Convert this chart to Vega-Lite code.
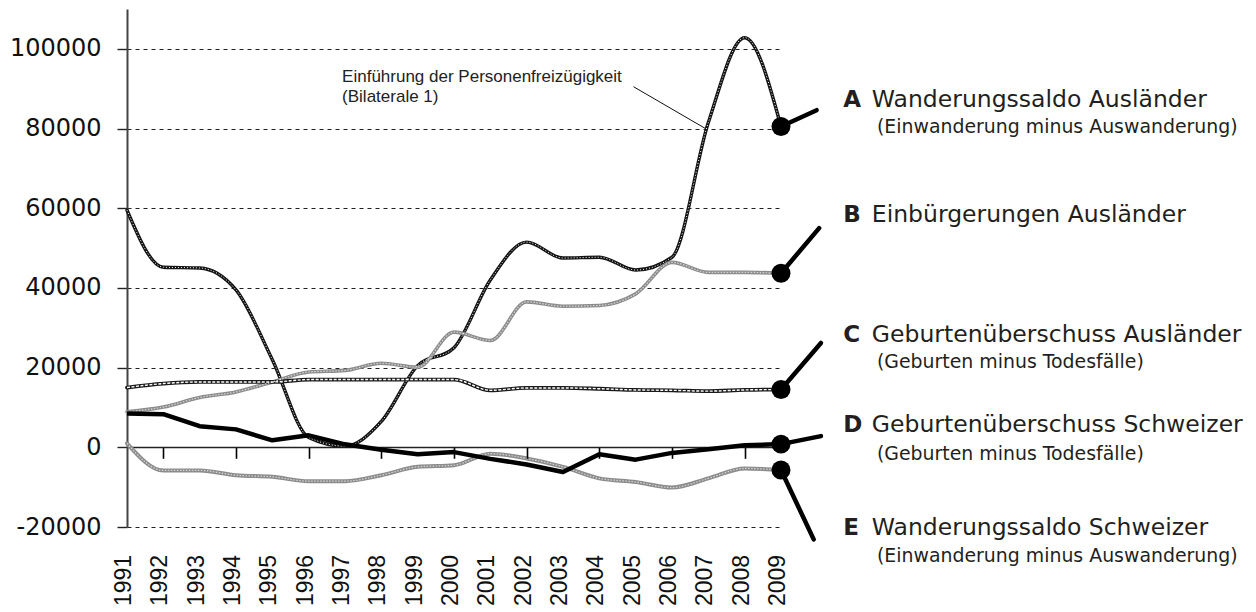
{
  "$schema": "https://vega.github.io/schema/vega-lite/v6.json",
  "width": 654,
  "height": 518,
  "autosize": {"type": "none"},
  "padding": {"left": 127, "top": 9, "right": 475, "bottom": 85},
  "background": "white",
  "config": {"view": {"stroke": null}, "font": "DejaVu Sans"},
  "datasets": {
    "series": [
      {"year": 1991, "series": "A", "value": 59500},
      {"year": 1992, "series": "A", "value": 45200},
      {"year": 1993, "series": "A", "value": 45000},
      {"year": 1994, "series": "A", "value": 39500},
      {"year": 1995, "series": "A", "value": 22000},
      {"year": 1996, "series": "A", "value": 2500},
      {"year": 1997, "series": "A", "value": 300},
      {"year": 1998, "series": "A", "value": 6500},
      {"year": 1999, "series": "A", "value": 20500},
      {"year": 2000, "series": "A", "value": 25000},
      {"year": 2001, "series": "A", "value": 42000},
      {"year": 2002, "series": "A", "value": 51500},
      {"year": 2003, "series": "A", "value": 47500},
      {"year": 2004, "series": "A", "value": 47700},
      {"year": 2005, "series": "A", "value": 44500},
      {"year": 2006, "series": "A", "value": 47700},
      {"year": 2007, "series": "A", "value": 81500},
      {"year": 2008, "series": "A", "value": 102800},
      {"year": 2009, "series": "A", "value": 80500},
      {"year": 1991, "series": "B", "value": 8900},
      {"year": 1992, "series": "B", "value": 10100},
      {"year": 1993, "series": "B", "value": 12500},
      {"year": 1994, "series": "B", "value": 13900},
      {"year": 1995, "series": "B", "value": 16400},
      {"year": 1996, "series": "B", "value": 18900},
      {"year": 1997, "series": "B", "value": 19300},
      {"year": 1998, "series": "B", "value": 21100},
      {"year": 1999, "series": "B", "value": 20100},
      {"year": 2000, "series": "B", "value": 28900},
      {"year": 2001, "series": "B", "value": 26800},
      {"year": 2002, "series": "B", "value": 36500},
      {"year": 2003, "series": "B", "value": 35400},
      {"year": 2004, "series": "B", "value": 35600},
      {"year": 2005, "series": "B", "value": 38500},
      {"year": 2006, "series": "B", "value": 46400},
      {"year": 2007, "series": "B", "value": 43900},
      {"year": 2008, "series": "B", "value": 43900},
      {"year": 2009, "series": "B", "value": 43700},
      {"year": 1991, "series": "C", "value": 15000},
      {"year": 1992, "series": "C", "value": 16000},
      {"year": 1993, "series": "C", "value": 16400},
      {"year": 1994, "series": "C", "value": 16400},
      {"year": 1995, "series": "C", "value": 16400},
      {"year": 1996, "series": "C", "value": 17000},
      {"year": 1997, "series": "C", "value": 17000},
      {"year": 1998, "series": "C", "value": 17000},
      {"year": 1999, "series": "C", "value": 17000},
      {"year": 2000, "series": "C", "value": 17000},
      {"year": 2001, "series": "C", "value": 14300},
      {"year": 2002, "series": "C", "value": 14900},
      {"year": 2003, "series": "C", "value": 14900},
      {"year": 2004, "series": "C", "value": 14700},
      {"year": 2005, "series": "C", "value": 14400},
      {"year": 2006, "series": "C", "value": 14300},
      {"year": 2007, "series": "C", "value": 14100},
      {"year": 2008, "series": "C", "value": 14400},
      {"year": 2009, "series": "C", "value": 14500},
      {"year": 1991, "series": "D", "value": 8500},
      {"year": 1992, "series": "D", "value": 8300},
      {"year": 1993, "series": "D", "value": 5300},
      {"year": 1994, "series": "D", "value": 4500},
      {"year": 1995, "series": "D", "value": 1750},
      {"year": 1996, "series": "D", "value": 3000},
      {"year": 1997, "series": "D", "value": 750},
      {"year": 1998, "series": "D", "value": -600},
      {"year": 1999, "series": "D", "value": -1750},
      {"year": 2000, "series": "D", "value": -1200},
      {"year": 2001, "series": "D", "value": -2900},
      {"year": 2002, "series": "D", "value": -4300},
      {"year": 2003, "series": "D", "value": -6200},
      {"year": 2004, "series": "D", "value": -1750},
      {"year": 2005, "series": "D", "value": -3100},
      {"year": 2006, "series": "D", "value": -1400},
      {"year": 2007, "series": "D", "value": -500},
      {"year": 2008, "series": "D", "value": 500},
      {"year": 2009, "series": "D", "value": 800},
      {"year": 1991, "series": "E", "value": 1000},
      {"year": 1992, "series": "E", "value": -5800},
      {"year": 1993, "series": "E", "value": -5800},
      {"year": 1994, "series": "E", "value": -7000},
      {"year": 1995, "series": "E", "value": -7400},
      {"year": 1996, "series": "E", "value": -8500},
      {"year": 1997, "series": "E", "value": -8500},
      {"year": 1998, "series": "E", "value": -7000},
      {"year": 1999, "series": "E", "value": -4900},
      {"year": 2000, "series": "E", "value": -4500},
      {"year": 2001, "series": "E", "value": -1600},
      {"year": 2002, "series": "E", "value": -2800},
      {"year": 2003, "series": "E", "value": -4900},
      {"year": 2004, "series": "E", "value": -7800},
      {"year": 2005, "series": "E", "value": -8700},
      {"year": 2006, "series": "E", "value": -10100},
      {"year": 2007, "series": "E", "value": -7800},
      {"year": 2008, "series": "E", "value": -5300},
      {"year": 2009, "series": "E", "value": -5700}
    ],
    "pointers": [
      {"k": "A", "x": 2009, "y": 80500, "x2": 2009.98, "y2": 84600},
      {"k": "B", "x": 2009, "y": 43700, "x2": 2010.05, "y2": 55000},
      {"k": "C", "x": 2009, "y": 14500, "x2": 2010.1, "y2": 26200},
      {"k": "D", "x": 2009, "y": 800, "x2": 2010.1, "y2": 2800},
      {"k": "E", "x": 2009, "y": -5700, "x2": 2009.9, "y2": -23100}
    ],
    "labels": [
      {"k": "A", "t": "Wanderungssaldo Ausländer", "s": "(Einwanderung minus Auswanderung)", "ty": 85500, "sy": 78900},
      {"k": "B", "t": "Einbürgerungen Ausländer", "s": "", "ty": 56600, "sy": 50000},
      {"k": "C", "t": "Geburtenüberschuss Ausländer", "s": "(Geburten minus Todesfälle)", "ty": 26500, "sy": 19800},
      {"k": "D", "t": "Geburtenüberschuss Schweizer", "s": "(Geburten minus Todesfälle)", "ty": 3900, "sy": -3200},
      {"k": "E", "t": "Wanderungssaldo Schweizer", "s": "(Einwanderung minus Auswanderung)", "ty": -22000, "sy": -28700}
    ],
    "note": [
      {"t": "Einführung der Personenfreizügigkeit", "yr": 1996.92, "v": 91750},
      {"t": "(Bilaterale 1)", "yr": 1996.92, "v": 86730}
    ],
    "noteLine": [
      {"x": 2004.94, "y": 90500, "x2": 2006.91, "y2": 80060}
    ]
  },
  "layer": [
    {
      "data": {"name": "series"},
      "transform": [{"filter": "datum.series !== 'D'"}],
      "mark": {"type": "line", "interpolate": "monotone", "strokeCap": "round"},
      "encoding": {
        "x": {
          "field": "year", "type": "quantitative", "title": null,
          "scale": {"domain": [1991, 2009], "nice": false, "zero": false},
          "axis": {
            "values": [1992, 1993, 1994, 1995, 1996, 1997, 1998, 1999, 2000, 2001, 2002, 2003, 2004, 2005, 2006, 2007, 2008, 2009],
            "labels": false, "domain": false, "ticks": true, "tickSize": 11, "tickColor": "#000", "tickWidth": 1.6, "tickOpacity": 1,
            "grid": false, "offset": -79.7, "zindex": 1
          }
        },
        "y": {
          "field": "value", "type": "quantitative", "title": null,
          "scale": {"domain": [-20000, 110000], "nice": false, "zero": false},
          "axis": {
            "values": [-20000, 0, 20000, 40000, 60000, 80000, 100000],
            "labelExpr": "'' + datum.value",
            "domain": true, "domainColor": "#444", "domainWidth": 2,
            "ticks": true, "tickSize": 10, "tickColor": "#222", "tickWidth": 1.4, "tickOpacity": 1,
            "grid": true, "gridColor": "#222",
            "gridDash": {"condition": {"test": "datum.value === 0", "value": []}, "value": [4, 4]},
            "gridWidth": {"condition": {"test": "datum.value === 0", "value": 1.6}, "value": 1},
            "gridOpacity": 1,
            "labelFont": "DejaVu Sans", "labelFontSize": 24, "labelColor": "#111", "labelPadding": 16
          }
        },
        "detail": {"field": "series"},
        "color": {"field": "series", "type": "nominal", "legend": null,
          "scale": {"domain": ["A", "B", "C", "E"], "range": ["#141414", "#8c8c8c", "#1a1a1a", "#8c8c8c"]}},
        "strokeWidth": {"field": "series", "type": "nominal", "legend": null,
          "scale": {"domain": ["A", "B", "C", "E"], "range": [3.4, 4, 3.6, 3.6]}}
      }
    },
    {
      "data": {"name": "series"},
      "transform": [{"filter": {"field": "series", "equal": "D"}}],
      "mark": {"type": "text", "angle": 270, "align": "right", "baseline": "middle", "font": "Liberation Sans", "fontSize": 23, "color": "#111", "dy": -3},
      "encoding": {
        "x": {"field": "year", "type": "quantitative", "title": null},
        "y": {"datum": -27000, "type": "quantitative"},
        "text": {"field": "year", "type": "quantitative", "format": "d"}
      }
    },
    {
      "data": {"name": "series"},
      "transform": [{"filter": "datum.series === 'B' || datum.series === 'E'"}],
      "mark": {"type": "line", "interpolate": "monotone", "color": "#d6d6d6", "strokeWidth": 1.2, "strokeDash": [1.5, 1.5]},
      "encoding": {
        "x": {"field": "year", "type": "quantitative", "title": null},
        "y": {"field": "value", "type": "quantitative", "title": null},
        "detail": {"field": "series"}
      }
    },
    {
      "data": {"name": "series"},
      "transform": [{"filter": "datum.series === 'A'"}],
      "mark": {"type": "line", "interpolate": "monotone", "color": "white", "strokeWidth": 1, "strokeDash": [1, 2]},
      "encoding": {
        "x": {"field": "year", "type": "quantitative", "title": null},
        "y": {"field": "value", "type": "quantitative", "title": null}
      }
    },
    {
      "data": {"name": "series"},
      "transform": [{"filter": "datum.series === 'C'"}],
      "mark": {"type": "line", "interpolate": "monotone", "color": "white", "strokeWidth": 1.4, "strokeDash": [3, 1.5]},
      "encoding": {
        "x": {"field": "year", "type": "quantitative", "title": null},
        "y": {"field": "value", "type": "quantitative", "title": null}
      }
    },
    {
      "data": {"name": "series"},
      "transform": [{"filter": "datum.series === 'D'"}],
      "mark": {"type": "line", "interpolate": "linear", "color": "#000", "strokeWidth": 4.5, "strokeJoin": "round"},
      "encoding": {
        "x": {"field": "year", "type": "quantitative", "title": null},
        "y": {"field": "value", "type": "quantitative", "title": null}
      }
    },
    {
      "data": {"name": "pointers"},
      "mark": {"type": "rule", "color": "#000", "strokeWidth": 4.5, "strokeCap": "round"},
      "encoding": {
        "x": {"field": "x", "type": "quantitative", "title": null},
        "y": {"field": "y", "type": "quantitative", "title": null},
        "x2": {"field": "x2"},
        "y2": {"field": "y2"}
      }
    },
    {
      "data": {"name": "series"},
      "transform": [{"filter": "datum.year === 2009"}],
      "mark": {"type": "point", "shape": "circle", "filled": true, "color": "#000", "opacity": 1, "size": 360},
      "encoding": {
        "x": {"field": "year", "type": "quantitative", "title": null},
        "y": {"field": "value", "type": "quantitative", "title": null}
      }
    },
    {
      "data": {"name": "noteLine"},
      "mark": {"type": "rule", "color": "#111", "strokeWidth": 1},
      "encoding": {
        "x": {"field": "x", "type": "quantitative", "title": null},
        "y": {"field": "y", "type": "quantitative", "title": null},
        "x2": {"field": "x2"},
        "y2": {"field": "y2"}
      }
    },
    {
      "data": {"name": "note"},
      "mark": {"type": "text", "align": "left", "baseline": "alphabetic", "font": "Liberation Sans", "fontSize": 17, "color": "#222"},
      "encoding": {
        "x": {"field": "yr", "type": "quantitative", "title": null},
        "y": {"field": "v", "type": "quantitative", "title": null},
        "text": {"field": "t"}
      }
    },
    {
      "data": {"name": "labels"},
      "mark": {"type": "text", "align": "left", "baseline": "alphabetic", "font": "DejaVu Sans", "fontWeight": "bold", "fontSize": 23, "color": "#231f20"},
      "encoding": {
        "x": {"datum": 2010.71, "type": "quantitative"},
        "y": {"field": "ty", "type": "quantitative", "title": null},
        "text": {"field": "k"}
      }
    },
    {
      "data": {"name": "labels"},
      "mark": {"type": "text", "align": "left", "baseline": "alphabetic", "font": "DejaVu Sans", "fontSize": 23.5, "color": "#231f20"},
      "encoding": {
        "x": {"datum": 2011.5, "type": "quantitative"},
        "y": {"field": "ty", "type": "quantitative", "title": null},
        "text": {"field": "t"}
      }
    },
    {
      "data": {"name": "labels"},
      "transform": [{"filter": "datum.s !== ''"}],
      "mark": {"type": "text", "align": "left", "baseline": "alphabetic", "font": "DejaVu Sans", "fontSize": 18.9, "color": "#231f20"},
      "encoding": {
        "x": {"datum": 2011.64, "type": "quantitative"},
        "y": {"field": "sy", "type": "quantitative", "title": null},
        "text": {"field": "s"}
      }
    }
  ]
}
